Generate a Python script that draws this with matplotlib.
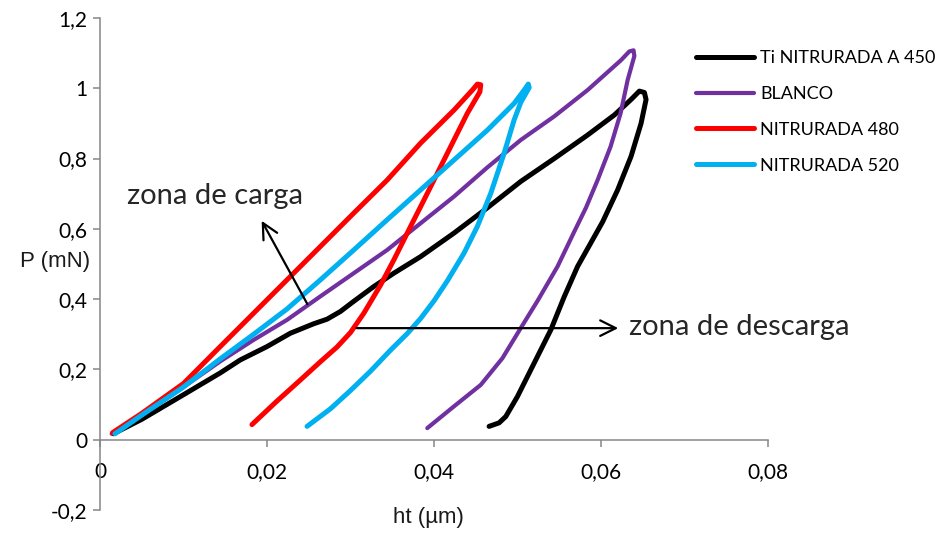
import matplotlib
matplotlib.use("Agg")
import matplotlib.pyplot as plt

# curvas de carga / descarga (ht en um, P en mN)
ti450_x = [0.0016, 0.005, 0.010, 0.0144, 0.0168, 0.0200, 0.0228, 0.0256, 0.0272, 0.0288, 0.0304,
           0.0328, 0.0352, 0.0384, 0.0424, 0.0464, 0.0504, 0.0544, 0.0584, 0.0616, 0.0636,
           0.0646, 0.0652, 0.0654, 0.0648, 0.0636, 0.0620, 0.0602, 0.0572, 0.0556, 0.0540,
           0.0520, 0.0500, 0.0486, 0.0478, 0.0466]
ti450_y = [0.017, 0.058, 0.128, 0.190, 0.227, 0.265, 0.303, 0.330, 0.343, 0.365, 0.394,
           0.436, 0.474, 0.521, 0.588, 0.660, 0.735, 0.800, 0.867, 0.924, 0.968,
           0.992, 0.988, 0.968, 0.900, 0.806, 0.711, 0.620, 0.493, 0.407, 0.313,
           0.218, 0.123, 0.066, 0.048, 0.038]

blanco_x = [0.0014, 0.005, 0.010, 0.0144, 0.0184, 0.0224, 0.0264, 0.0304, 0.0344, 0.0384, 0.0424,
            0.0464, 0.0504, 0.0544, 0.0584, 0.0624, 0.0634, 0.0639, 0.0640, 0.0632, 0.06235,
            0.06115, 0.0596, 0.0582, 0.0568, 0.0548, 0.0524, 0.0504, 0.0482, 0.0456, 0.0424,
            0.0392]
blanco_y = [0.017, 0.070, 0.150, 0.223, 0.284, 0.341, 0.408, 0.474, 0.540, 0.616, 0.692,
            0.775, 0.853, 0.920, 0.995, 1.080, 1.105, 1.108, 1.092, 1.024, 0.929,
            0.834, 0.739, 0.660, 0.592, 0.493, 0.395, 0.318, 0.232, 0.156, 0.095,
            0.033]

n480_x = [0.0015, 0.005, 0.010, 0.0144, 0.0184, 0.0224, 0.0264, 0.0304, 0.0344, 0.0384, 0.0424,
          0.0446, 0.0452, 0.0456, 0.0455, 0.0440, 0.0420, 0.0404, 0.0388, 0.0372, 0.0352,
          0.0336, 0.0316, 0.0300, 0.0284, 0.0264, 0.0240, 0.0212, 0.0182]
n480_y = [0.020, 0.075, 0.160, 0.265, 0.360, 0.455, 0.550, 0.645, 0.739, 0.844, 0.938,
          0.995, 1.012, 1.010, 0.990, 0.929, 0.834, 0.758, 0.682, 0.607, 0.512,
          0.440, 0.360, 0.305, 0.264, 0.222, 0.170, 0.110, 0.043]

n520_x = [0.0018, 0.005, 0.010, 0.0144, 0.0184, 0.0224, 0.0264, 0.0304, 0.0344, 0.0384, 0.0424,
          0.0464, 0.0496, 0.0508, 0.0513, 0.0514, 0.0504, 0.0496, 0.0484, 0.0468, 0.0452,
          0.0436, 0.0416, 0.0400, 0.0384, 0.0368, 0.0348, 0.0324, 0.0300, 0.0276, 0.0248]
n520_y = [0.017, 0.070, 0.150, 0.230, 0.300, 0.372, 0.455, 0.540, 0.626, 0.711, 0.796,
          0.881, 0.957, 0.995, 1.012, 1.002, 0.960, 0.910, 0.815, 0.701, 0.607,
          0.531, 0.452, 0.395, 0.345, 0.302, 0.255, 0.195, 0.140, 0.088, 0.038]

labels = ["Ti NITRURADA A 450", "BLANCO", "NITRURADA 480", "NITRURADA 520"]
colores = ["#000000", "#7030A0", "#FF0000", "#00B0F0"]

x_ticks = [0, 0.02, 0.04, 0.06, 0.08]
x_ticklabels = ["0", "0,02", "0,04", "0,06", "0,08"]
y_ticks = [-0.2, 0, 0.2, 0.4, 0.6, 0.8, 1.0, 1.2]
y_ticklabels = ["-0,2", "0", "0,2", "0,4", "0,6", "0,8", "1", "1,2"]

fig = plt.figure(figsize=(9.37, 5.36), dpi=100)
ax = fig.add_axes([0.1067, 0.0485, 0.7129, 0.9179])

series = [(ti450_x, ti450_y), (blanco_x, blanco_y), (n480_x, n480_y), (n520_x, n520_y)]
for (xs, ys), lab, c in zip(series, labels, colores):
    lw = 3.0 if lab == "BLANCO" else 3.6
    ax.plot(xs, ys, color=c, lw=lw, label=lab, solid_capstyle="round", solid_joinstyle="round")

ax.set_xlim(0, 0.08)
ax.set_ylim(-0.2, 1.2)

gris = "#868686"
ax.spines["top"].set_visible(False)
ax.spines["right"].set_visible(False)
ax.spines["bottom"].set_position(("data", 0))
ax.spines["left"].set_color(gris)
ax.spines["bottom"].set_color(gris)
ax.spines["left"].set_linewidth(1.1)
ax.spines["bottom"].set_linewidth(1.1)

ax.set_xticks(x_ticks, x_ticklabels)
ax.set_yticks(y_ticks, y_ticklabels)
ax.tick_params(axis="both", colors=gris, length=5, width=1.1, labelcolor="black",
               labelsize=15)
ax.tick_params(axis="x", pad=11)
ax.tick_params(axis="y", pad=4)
for t in ax.get_xticklabels() + ax.get_yticklabels():
    t.set_fontfamily("Lato")

# titulos de ejes
fig.text(55 / 937, 1 - 262 / 536, "P (mN)", ha="center", va="center",
         fontsize=16, family="Liberation Sans", color="#1a1a1a")
fig.text(428 / 937, 1 - 518 / 536, "ht (\u00b5m)", ha="center", va="center",
         fontsize=16, family="Liberation Sans", color="#1a1a1a")

# flechas y textos
flecha = dict(arrowstyle="->", lw=1.6, color="black", mutation_scale=28)
ax.annotate("", xy=(0.0192, 0.630), xytext=(0.0250, 0.379), arrowprops=flecha)
ax.annotate("", xy=(0.0624, 0.3175), xytext=(0.0304, 0.3175), arrowprops=flecha)
ax.text(0.0032, 0.694, "zona de carga", fontsize=21, family="Lato", color="#262626",
        ha="left", va="center")
ax.text(0.0633, 0.321, "zona de descarga", fontsize=21, family="Lato", color="#262626",
        ha="left", va="center", clip_on=False)

fig.legend(loc="upper left", bbox_to_anchor=(696 / 937, 1 - 50 / 536), frameon=False,
           prop={"family": "Lato", "size": 13}, handlelength=3.2, handletextpad=0.35,
           labelspacing=1.1, borderpad=0, borderaxespad=0)

fig.savefig("out.png", dpi=100)
